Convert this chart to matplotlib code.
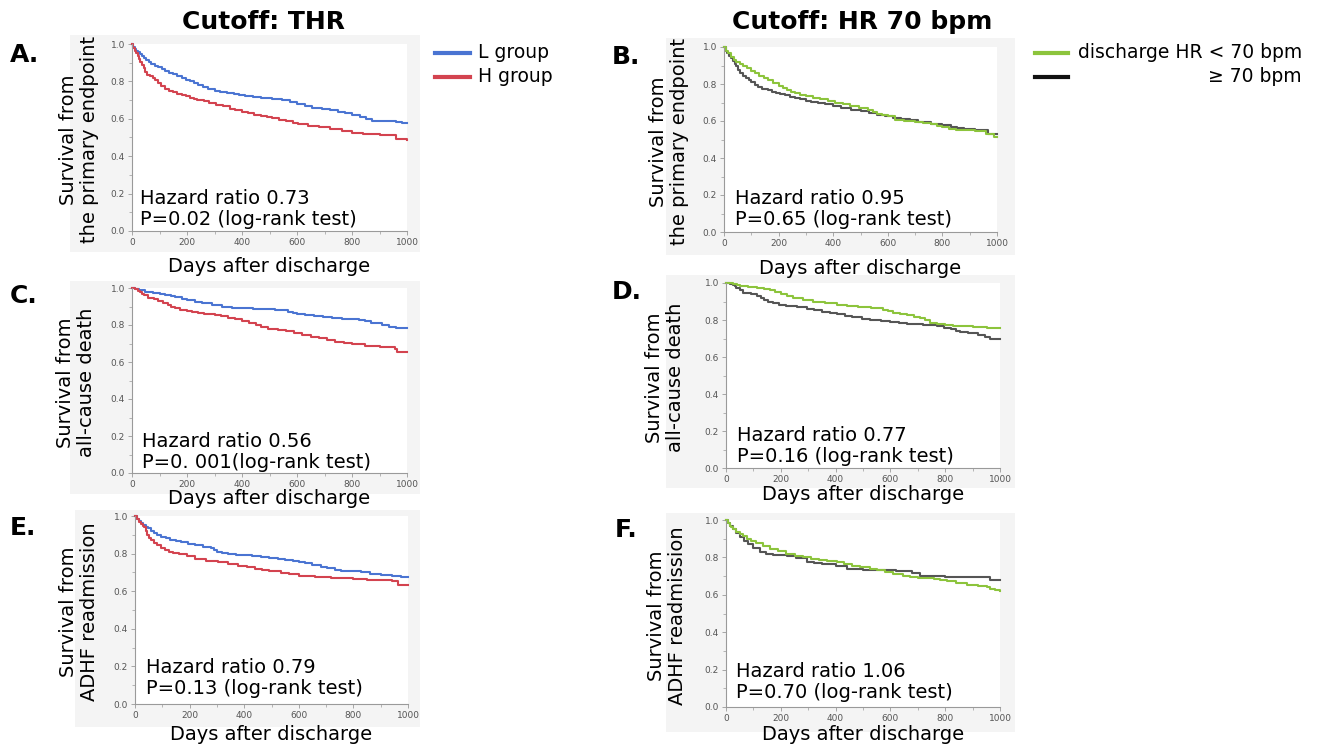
import matplotlib
matplotlib.use("Agg")
import matplotlib.pyplot as plt
from matplotlib.patches import Rectangle
from matplotlib.lines import Line2D
from matplotlib.ticker import MultipleLocator, FormatStrFormatter

W, H = 1317, 749

# ---- datos (curvas Kaplan-Meier, dias / supervivencia) ----
a_l_days = [0, 5, 10, 15, 20, 28, 35, 42, 50, 60, 70, 82, 95, 108, 120, 135, 150, 165, 180, 195, 210, 225, 240, 258, 277, 300, 320, 345, 370, 390, 410, 440, 470, 510, 545, 575, 600, 630, 655, 690, 720, 750, 775, 800, 830, 850, 872, 920, 960, 980, 1000]
a_l_surv = [1.0, .985, .975, .965, .955, .945, .935, .925, .915, .905, .895, .885, .875, .865, .857, .847, .837, .828, .82, .81, .80, .79, .78, .768, .757, .75, .745, .738, .73, .725, .72, .715, .71, .705, .70, .69, .68, .668, .658, .65, .645, .637, .63, .62, .61, .60, .59, .588, .583, .577, .575]
a_h_days = [0, 5, 10, 15, 20, 25, 30, 36, 42, 48, 55, 65, 75, 85, 95, 105, 120, 135, 150, 165, 180, 195, 210, 225, 236, 260, 280, 305, 330, 355, 375, 400, 420, 445, 470, 490, 510, 535, 560, 585, 605, 640, 680, 720, 764, 800, 840, 900, 945, 960, 1000]
a_h_surv = [1.0, .98, .965, .95, .935, .92, .905, .89, .87, .85, .835, .828, .82, .805, .79, .775, .758, .75, .742, .733, .728, .72, .713, .705, .70, .693, .686, .676, .668, .655, .645, .637, .63, .622, .615, .61, .605, .595, .587, .578, .572, .563, .556, .548, .533, .525, .518, .515, .513, .49, .485]

b_lo_days = [0, 8, 15, 25, 35, 45, 57, 70, 85, 100, 115, 130, 145, 161, 180, 200, 215, 230, 245, 260, 280, 300, 325, 350, 380, 407, 435, 460, 495, 527, 545, 560, 580, 600, 626, 660, 700, 730, 760, 780, 800, 825, 850, 920, 960, 990, 1000]
b_lo_surv = [1.0, .98, .965, .945, .93, .92, .91, .90, .885, .87, .858, .845, .832, .82, .805, .79, .778, .765, .757, .75, .742, .735, .727, .72, .71, .70, .69, .68, .67, .66, .65, .64, .632, .625, .605, .60, .597, .59, .585, .575, .565, .557, .55, .545, .53, .515, .515]
b_hi_days = [0, 6, 12, 20, 27, 33, 40, 45, 52, 60, 70, 80, 90, 100, 112, 125, 140, 160, 175, 190, 205, 222, 240, 260, 280, 300, 320, 345, 370, 400, 430, 466, 500, 530, 560, 590, 620, 650, 680, 712, 760, 800, 830, 855, 880, 920, 967, 1000]
b_hi_surv = [1.0, .98, .965, .95, .94, .925, .91, .895, .875, .86, .845, .83, .82, .81, .795, .785, .775, .765, .757, .75, .745, .74, .73, .725, .717, .71, .705, .70, .69, .68, .67, .66, .652, .645, .635, .625, .617, .61, .603, .595, .585, .578, .57, .562, .555, .55, .53, .53]

c_l_days = [0, 12, 25, 47, 75, 100, 120, 140, 156, 180, 200, 230, 255, 290, 327, 365, 400, 440, 480, 520, 567, 585, 600, 630, 660, 695, 727, 765, 800, 825, 847, 870, 909, 935, 960, 1000]
c_l_surv = [1.0, .995, .99, .98, .975, .97, .963, .955, .95, .94, .935, .927, .92, .91, .90, .893, .89, .887, .885, .88, .87, .865, .86, .855, .85, .845, .84, .835, .83, .825, .82, .81, .80, .79, .785, .785]
c_h_days = [0, 10, 20, 28, 36, 45, 58, 80, 94, 112, 130, 143, 156, 175, 200, 218, 240, 260, 280, 302, 325, 350, 375, 400, 425, 450, 470, 495, 530, 560, 590, 618, 650, 680, 710, 738, 770, 800, 847, 900, 945, 955, 965, 1000]
c_h_surv = [1.0, .993, .985, .978, .97, .96, .945, .94, .93, .92, .91, .90, .89, .882, .875, .87, .864, .86, .857, .855, .847, .84, .83, .82, .81, .80, .79, .78, .772, .765, .755, .745, .737, .73, .72, .71, .702, .695, .685, .683, .68, .668, .655, .655]

d_lo_days = [0, 15, 26, 40, 51, 80, 113, 140, 161, 180, 200, 222, 245, 280, 318, 360, 405, 440, 480, 530, 573, 590, 610, 635, 660, 685, 708, 725, 745, 770, 800, 830, 854, 900, 952, 1000]
d_lo_surv = [1.0, .998, .995, .99, .985, .98, .975, .967, .96, .95, .94, .93, .92, .91, .90, .89, .88, .875, .87, .865, .855, .848, .84, .832, .825, .818, .81, .80, .785, .78, .775, .77, .765, .76, .755, .755]
d_hi_days = [0, 15, 25, 32, 38, 50, 62, 90, 113, 128, 140, 155, 172, 195, 220, 260, 294, 320, 350, 380, 405, 435, 460, 495, 525, 565, 600, 630, 660, 720, 770, 795, 820, 838, 854, 885, 920, 945, 963, 1000]
d_hi_surv = [1.0, .995, .99, .983, .975, .96, .945, .94, .93, .92, .91, .90, .89, .882, .875, .868, .86, .852, .845, .837, .83, .822, .815, .807, .80, .795, .79, .785, .78, .772, .765, .757, .75, .742, .735, .728, .72, .71, .70, .70]

e_l_days = [0, 8, 15, 22, 30, 40, 48, 58, 70, 82, 95, 112, 130, 150, 168, 195, 220, 250, 278, 290, 300, 320, 340, 370, 403, 430, 460, 490, 524, 550, 580, 600, 623, 650, 680, 705, 733, 755, 780, 828, 860, 900, 940, 974, 1000]
e_l_surv = [1.0, .985, .975, .962, .952, .943, .935, .922, .91, .90, .89, .882, .875, .867, .86, .852, .845, .837, .83, .82, .81, .805, .80, .795, .79, .785, .78, .775, .77, .765, .76, .755, .75, .74, .73, .722, .715, .71, .705, .70, .692, .685, .68, .675, .675]
e_h_days = [0, 8, 15, 22, 28, 34, 40, 45, 52, 59, 70, 80, 95, 110, 125, 140, 160, 190, 220, 260, 304, 340, 377, 410, 440, 465, 490, 535, 565, 600, 660, 718, 760, 800, 850, 890, 940, 963, 1000]
e_h_surv = [1.0, .985, .97, .958, .948, .94, .92, .90, .885, .87, .857, .845, .832, .82, .81, .805, .80, .785, .77, .762, .755, .745, .735, .727, .72, .712, .705, .695, .69, .68, .675, .67, .668, .665, .662, .66, .655, .635, .635]

f_lo_days = [0, 8, 15, 20, 26, 38, 50, 62, 75, 92, 110, 135, 161, 190, 220, 250, 282, 310, 340, 370, 405, 430, 460, 490, 525, 550, 580, 610, 646, 670, 700, 760, 780, 806, 840, 880, 920, 952, 965, 980, 1000]
f_lo_surv = [1.0, .985, .97, .96, .95, .937, .925, .912, .90, .887, .875, .86, .845, .832, .82, .81, .80, .792, .785, .78, .775, .765, .755, .747, .74, .73, .72, .71, .70, .695, .69, .685, .68, .675, .662, .65, .645, .64, .632, .625, .62]
f_hi_days = [0, 8, 15, 25, 38, 51, 65, 80, 100, 124, 145, 170, 221, 255, 294, 320, 350, 400, 441, 470, 500, 545, 587, 620, 650, 680, 708, 760, 800, 890, 963, 1000]
f_hi_surv = [1.0, .985, .97, .95, .93, .91, .89, .87, .85, .83, .82, .815, .81, .795, .775, .77, .765, .755, .74, .737, .735, .732, .73, .728, .725, .715, .70, .698, .695, .695, .68, .68]

letras = ["A.", "B.", "C.", "D.", "E.", "F."]
ylabels = ["Survival from\nthe primary endpoint", "Survival from\nthe primary endpoint",
           "Survival from\nall-cause death", "Survival from\nall-cause death",
           "Survival from\nADHF readmission", "Survival from\nADHF readmission"]
textos = ["Hazard ratio 0.73\nP=0.02 (log-rank test)",
          "Hazard ratio 0.95\nP=0.65 (log-rank test)",
          "Hazard ratio 0.56\nP=0. 001(log-rank test)",
          "Hazard ratio 0.77\nP=0.16 (log-rank test)",
          "Hazard ratio 0.79\nP=0.13 (log-rank test)",
          "Hazard ratio 1.06\nP=0.70 (log-rank test)"]

AZUL = "#4a74d2"
ROJO = "#d3434f"
VERDE = "#8cc43c"
GRIS = "#555555"

curvas = [
    [(a_l_days, a_l_surv, AZUL), (a_h_days, a_h_surv, ROJO)],
    [(b_hi_days, b_hi_surv, GRIS), (b_lo_days, b_lo_surv, VERDE)],
    [(c_l_days, c_l_surv, AZUL), (c_h_days, c_h_surv, ROJO)],
    [(d_hi_days, d_hi_surv, GRIS), (d_lo_days, d_lo_surv, VERDE)],
    [(e_l_days, e_l_surv, AZUL), (e_h_days, e_h_surv, ROJO)],
    [(f_hi_days, f_hi_surv, GRIS), (f_lo_days, f_lo_surv, VERDE)],
]

# posiciones en pixeles: ejes (x0, x1, ytop, ybottom), caja gris, etiquetas
ejes_px = [(132, 407, 44, 231), (724, 997, 47, 232), (132, 407, 288, 473),
           (726, 1000, 283, 468), (135, 408, 516, 704), (726, 1000, 520, 707)]
cajas_px = [(70, 420, 35, 252), (666, 1015, 38, 255), (70, 420, 281, 494),
            (666, 1015, 275, 488), (75, 420, 510, 727), (666, 1015, 513, 732)]
ylab_x = [79, 669, 76, 665, 79, 667]
xlab_y = [266, 268, 499, 494, 734, 735]
txt_pos = [(140, 209), (735, 209), (142, 452), (737, 446), (146, 678), (736, 682)]
letra_pos = [(10, 55), (612, 57), (10, 296), (612, 292), (10, 528), (615, 530)]

fig = plt.figure(figsize=(W / 100, H / 100), dpi=100)
fig.patch.set_facecolor("white")


def fx(px):
    return px / W


def fy(py):
    return 1 - py / H


for i in range(6):
    bx0, bx1, by0, by1 = cajas_px[i]
    fig.patches.append(Rectangle((fx(bx0), fy(by1)), fx(bx1 - bx0), (by1 - by0) / H,
                                 transform=fig.transFigure, facecolor="#f4f4f4",
                                 edgecolor="none", zorder=-5))

    x0, x1, yt, yb = ejes_px[i]
    ax = fig.add_axes([fx(x0), fy(yb), fx(x1 - x0), (yb - yt) / H])
    ax.set_zorder(2)
    ax.set_facecolor("white")
    for dias, surv, col in curvas[i]:
        ax.step(dias, surv, where="post", color=col, lw=1.5, clip_on=False)
    ax.set_xlim(0, 1000)
    ax.set_ylim(0, 1.0)
    ax.spines["top"].set_visible(False)
    ax.spines["right"].set_visible(False)
    for s in ["left", "bottom"]:
        ax.spines[s].set_color("#9a9a9a")
        ax.spines[s].set_linewidth(0.8)
    ax.xaxis.set_major_locator(MultipleLocator(200))
    ax.xaxis.set_minor_locator(MultipleLocator(100))
    ax.yaxis.set_major_locator(MultipleLocator(0.2))
    ax.yaxis.set_minor_locator(MultipleLocator(0.1))
    ax.yaxis.set_major_formatter(FormatStrFormatter("%.1f"))
    ax.tick_params(which="major", length=3, width=0.6, color="#9a9a9a",
                   labelsize=6.5, labelcolor="#555555", pad=2)
    ax.tick_params(which="minor", length=2, width=0.5, color="#9a9a9a")

    fig.text(fx(ylab_x[i]), fy((yt + yb) / 2 + 2), ylabels[i], rotation=90,
             ha="center", va="center", fontsize=14, multialignment="center",
             linespacing=1.1)
    fig.text(fx((x0 + x1) / 2), fy(xlab_y[i]), "Days after discharge",
             ha="center", va="center", fontsize=14)
    tx, ty = txt_pos[i]
    fig.text(fx(tx), fy(ty), textos[i], ha="left", va="center", fontsize=14,
             linespacing=1.1, zorder=5)
    lx, ly = letra_pos[i]
    fig.text(fx(lx), fy(ly), letras[i], ha="left", va="center", fontsize=18,
             fontweight="bold")

# titulos
fig.text(fx(263), fy(22), "Cutoff: THR", ha="center", va="center",
         fontsize=18, fontweight="bold")
fig.text(fx(862), fy(22), "Cutoff: HR 70 bpm", ha="center", va="center",
         fontsize=18, fontweight="bold")

# leyendas
fig.add_artist(Line2D([fx(435), fx(470)], [fy(53), fy(53)], color=AZUL, lw=3))
fig.add_artist(Line2D([fx(435), fx(470)], [fy(77), fy(77)], color=ROJO, lw=3))
fig.text(fx(478), fy(53), "L group", ha="left", va="center", fontsize=13.5)
fig.text(fx(478), fy(77), "H group", ha="left", va="center", fontsize=13.5)

fig.add_artist(Line2D([fx(1035), fx(1068)], [fy(53), fy(53)], color=VERDE, lw=3))
fig.add_artist(Line2D([fx(1035), fx(1068)], [fy(77), fy(77)], color="#111111", lw=3))
fig.text(fx(1078), fy(53), "discharge HR < 70 bpm", ha="left", va="center", fontsize=13.5)
fig.text(fx(1302), fy(77), "≥ 70 bpm", ha="right", va="center", fontsize=13.5)

fig.savefig("out.png", dpi=100)
